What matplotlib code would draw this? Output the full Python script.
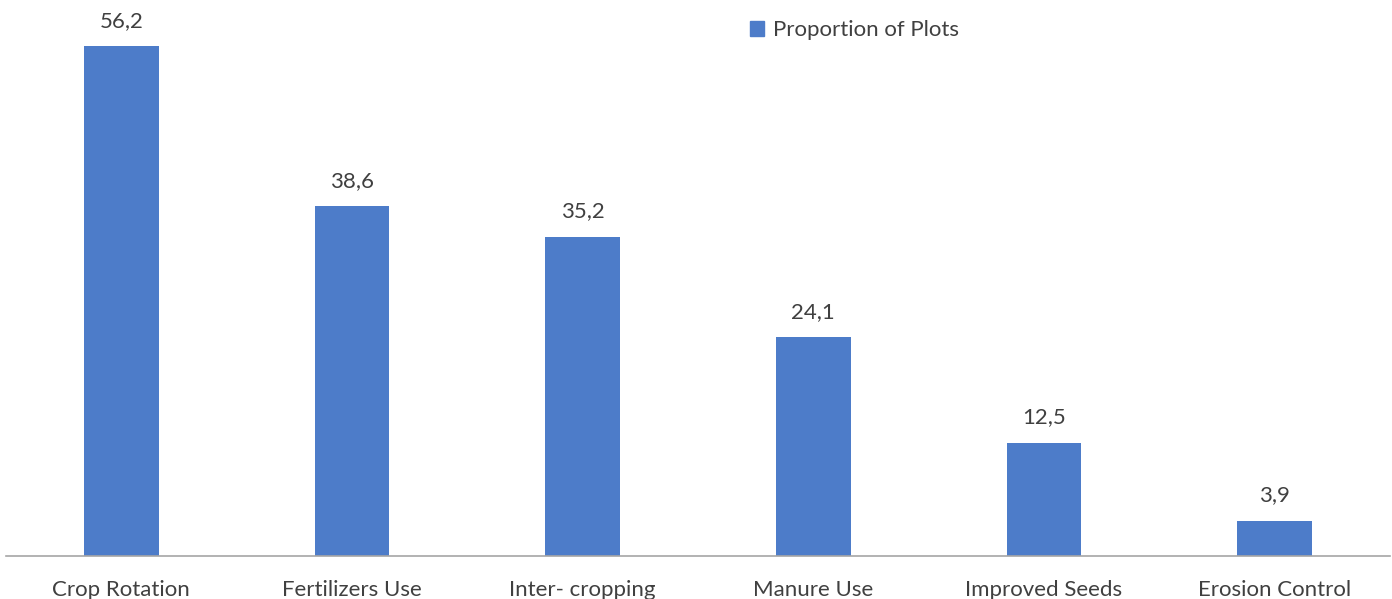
import matplotlib.pyplot as plt
from matplotlib.patches import Patch

categories = ["Crop Rotation", "Fertilizers Use", "Inter- cropping",
              "Manure Use", "Improved Seeds", "Erosion Control"]
values = [56.2, 38.6, 35.2, 24.1, 12.5, 3.9]
series_name = "Proportion of Plots"

BAR_COLOR = "#4D7CC9"
TEXT_COLOR = "#404040"

plt.rcParams["font.family"] = ["Lato", "DejaVu Sans"]

fig = plt.figure(figsize=(13.92, 5.99), dpi=100)
ax = fig.add_axes([6 / 1392, 1 - 556 / 599, 1384 / 1392, 556 / 599])

x = range(len(categories))
bars = ax.bar(x, values, width=0.325, color=BAR_COLOR)
for bar, val in zip(bars, values):
    ax.annotate(f"{val:.1f}".replace(".", ","),
                (bar.get_x() + bar.get_width() / 2, bar.get_height()),
                xytext=(0, 11), textcoords="offset points",
                ha="center", va="bottom", fontsize=16, color=TEXT_COLOR)

ax.set_xlim(-0.5, len(categories) - 0.5)
ax.set_ylim(0, 61.3)
ax.set_xticks(list(x))
ax.set_xticklabels(categories, fontsize=16, color=TEXT_COLOR)
ax.tick_params(axis="x", length=0, pad=17.5)
ax.set_yticks([])
for side in ["top", "right", "left"]:
    ax.spines[side].set_visible(False)
ax.spines["bottom"].set_color("#A6A6A6")
ax.spines["bottom"].set_linewidth(1.2)

ax.legend(handles=[Patch(color=BAR_COLOR, label=series_name)],
          loc="upper left", bbox_to_anchor=(730 / 1392, 1.0),
          bbox_transform=fig.transFigure, frameon=False,
          fontsize=16, labelcolor=TEXT_COLOR,
          handlelength=0.65, handleheight=0.65, handletextpad=0.4)

fig.savefig("out.png", dpi=100)
